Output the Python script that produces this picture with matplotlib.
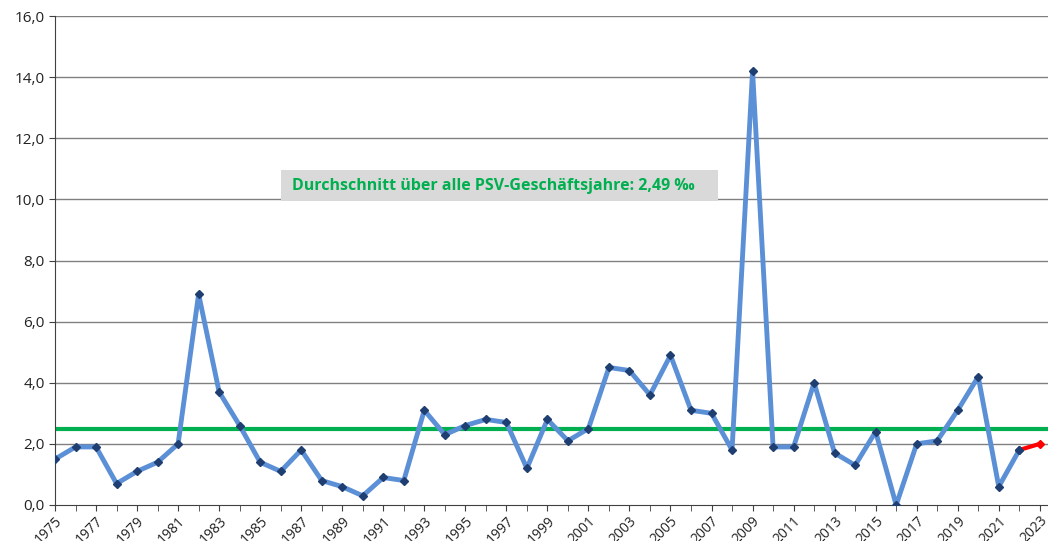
import numpy as np
import matplotlib.pyplot as plt
from matplotlib.patches import Rectangle
from matplotlib.ticker import FuncFormatter

years = np.arange(1975, 2024)
# Schadenquote in Promille
values = [1.5, 1.9, 1.9, 0.7, 1.1, 1.4, 2.0, 6.9, 3.7, 2.6,
          1.4, 1.1, 1.8, 0.8, 0.6, 0.3, 0.9, 0.8, 3.1, 2.3,
          2.6, 2.8, 2.7, 1.2, 2.8, 2.1, 2.5, 4.5, 4.4, 3.6,
          4.9, 3.1, 3.0, 1.8, 14.2, 1.9, 1.9, 4.0, 1.7, 1.3,
          2.4, 0.0, 2.0, 2.1, 3.1, 4.2, 0.6, 1.8, 2.0]
avg = 2.49
avg_text = "Durchschnitt über alle PSV-Geschäftsjahre: 2,49 ‰"

plt.rcParams['font.family'] = ['Open Sans', 'DejaVu Sans']

fig = plt.figure(figsize=(10.48, 5.41), dpi=100)
ax = fig.add_axes([55/1048, 36/541, 1 - 55/1048, 489/541])

ax.set_ylim(0, 16)
ax.set_xlim(1975, 2023.4)
ax.set_yticks(np.arange(0, 17, 2))
ax.yaxis.set_major_formatter(FuncFormatter(lambda v, p: f"{v:.1f}".replace('.', ',')))
for y in np.arange(2, 17, 2):
    ax.axhline(y, color='#808080', lw=1.0, zorder=1)

ax.axhline(avg, color='#00B050', lw=3, zorder=2)

ax.plot(years[:-1], values[:-1], color='#5B8FD6', lw=3.5, zorder=3,
        marker='D', ms=4.5, mfc='#1F3F73', mec='#1F3F73')
ax.plot(years[-2:], values[-2:], color='#FF0000', lw=3, zorder=3)
ax.plot(years[-1:], values[-1:], color='#FF0000', marker='D', ms=4.5, ls='none', zorder=4)
ax.plot(years[-2:-1], values[-2:-1], color='#1F3F73', marker='D', ms=4.5, ls='none', zorder=5)

# gray label box with the average
ax.add_patch(Rectangle((1986.0, 9.95), 21.3, 1.01, fc='#D9D9D9', ec='none', zorder=5))
ax.text(1986.55, 10.45, avg_text, color='#00B050', fontsize=11.5, fontweight='bold',
        va='center', ha='left', zorder=6)

ax.set_xticks(years, minor=True)
ax.set_xticks(years[::2])
ax.set_xticklabels([str(y) for y in years[::2]], rotation=45, ha='right',
                   rotation_mode='anchor', fontsize=10, color='#222222')
ax.tick_params(axis='x', which='both', length=4, color='#404040', pad=2)
ax.tick_params(axis='y', length=4, color='#404040', labelsize=11, labelcolor='#222222')

for s in ['top', 'right']:
    ax.spines[s].set_visible(False)
ax.spines['left'].set_color('#404040')
ax.spines['bottom'].set_color('#404040')

fig.savefig('out.png', dpi=100)
